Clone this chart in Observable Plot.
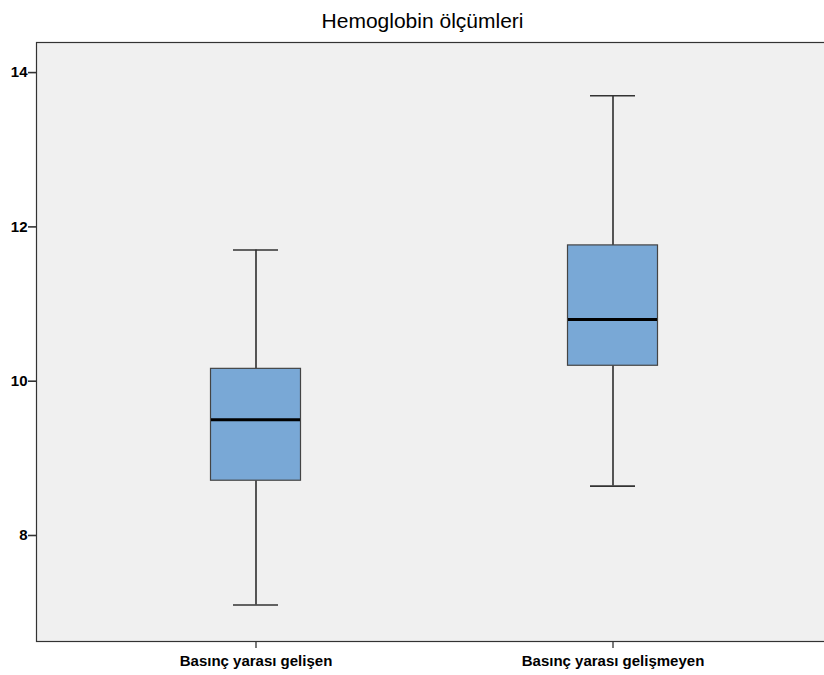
<!DOCTYPE html>
<html>
<head>
<meta charset="utf-8">
<script src="https://cdn.jsdelivr.net/npm/d3@7"></script>
<script src="https://cdn.jsdelivr.net/npm/@observablehq/plot@0.6"></script>
<style>
  html, body { margin: 0; padding: 0; background: #fff; }
  #chart svg { display: block; }
</style>
</head>
<body>
<div id="chart"></div>
<script>
const titleText = "Hemoglobin ölçümleri";
const groups = ["Basınç yarası gelişen", "Basınç yarası gelişmeyen"];
const whiskerLow = [7.10, 8.64];
const q1 = [8.71, 10.20];
const median = [9.50, 10.80];
const q3 = [10.16, 11.76];
const whiskerHigh = [11.70, 13.70];
const yTicks = [8, 10, 12, 14];

const data = groups.map((g, i) => ({
  group: g, lo: whiskerLow[i], q1: q1[i], med: median[i], q3: q3[i], hi: whiskerHigh[i]
}));

const font = "'Liberation Sans', Arial, sans-serif";

const chart = Plot.plot({
  width: 824,
  height: 675,
  marginTop: 42,
  marginBottom: 34,
  marginLeft: 36,
  marginRight: -2,
  style: { background: "#fff", overflow: "hidden" },
  x: { domain: groups, range: [76.5, 790.5], padding: 0, label: null },
  y: { domain: [6.626, 14.39], label: null },
  marks: [
    Plot.frame({ fill: "#f0f0f0", stroke: "#333", strokeWidth: 1.2 }),
    Plot.ruleX(data, { x: "group", y1: "q3", y2: "hi", stroke: "#000", strokeWidth: 1.3 }),
    Plot.ruleX(data, { x: "group", y1: "lo", y2: "q1", stroke: "#000", strokeWidth: 1.3 }),
    Plot.tickY(data, { x: "group", y: "hi", stroke: "#333", strokeWidth: 1.6, insetLeft: 156, insetRight: 156 }),
    Plot.tickY(data, { x: "group", y: "lo", stroke: "#333", strokeWidth: 1.6, insetLeft: 156, insetRight: 156 }),
    Plot.barY(data, { x: "group", y1: "q1", y2: "q3", fill: "#79a8d6", stroke: "#444", strokeWidth: 1.2, insetLeft: 133.5, insetRight: 133.5 }),
    Plot.tickY(data, { x: "group", y: "med", stroke: "#000", strokeWidth: 3, insetLeft: 134, insetRight: 134 }),
    Plot.axisY({ ticks: yTicks, tickSize: 8, tickPadding: 1, tickFormat: d3.format("d"), fontSize: 15, fontWeight: "bold", fontFamily: font, stroke: "#333", strokeWidth: 1.6, color: "#000" }),
    Plot.axisX({ tickSize: 7, tickPadding: 7, fontSize: 15, fontWeight: "bold", fontFamily: font, stroke: "#333", strokeWidth: 1.3, color: "#000" }),
    Plot.text([titleText], { frameAnchor: "top", lineAnchor: "bottom", dx: -9, dy: -15, fontSize: 21, fontFamily: font, fill: "#000" })
  ]
});
document.getElementById("chart").appendChild(chart);
</script>
</body>
</html>
